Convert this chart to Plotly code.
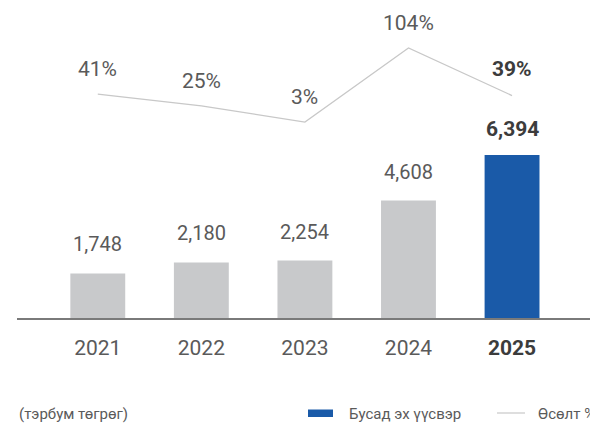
import plotly.graph_objects as go

years = ["2021", "2022", "2023", "2024", "2025"]
values = [1748, 2180, 2254, 4608, 6394]
growth = [41, 25, 3, 104, 39]
bar_colors = ["#c8c9cb", "#c8c9cb", "#c8c9cb", "#c8c9cb", "#1a5aa8"]
value_labels = ["1,748", "2,180", "2,254", "4,608", "6,394"]
growth_labels = ["41%", "25%", "3%", "104%", "39%"]
tick_labels = ["2021", "2022", "2023", "2024", "2025"]
unit_label = "(тэрбум төгрөг)"
legend_bar = "Бусад эх үүсвэр"
legend_line = "Өсөлт %"

FONT = "Roboto, Arial, sans-serif"
GRAY = "#5a5a5a"
DARK = "#3c3c3c"

# page body has an 8px margin -> design in figure pixels (reference px - 8)
OFF = 8
fig = go.Figure()
fig.add_trace(go.Bar(x=years, y=values, marker=dict(color=bar_colors, line=dict(width=0)),
                     width=0.53, showlegend=False, hoverinfo="skip"))
fig.add_trace(go.Scatter(x=years, y=growth, mode="lines", yaxis="y2",
                         line=dict(color="#c8c8c8", width=1.2), showlegend=False, hoverinfo="skip"))

ann = []
last = len(years) - 1
for i, (yr, v, lab) in enumerate(zip(years, values, value_labels)):
    bold = i == last
    ann.append(dict(x=i, y=v, xref="x", yref="y", text=f"<b>{lab}</b>" if bold else lab,
                    showarrow=False, yshift=26 if bold else 29,
                    font=dict(family=FONT, size=21 if bold else 20, color=DARK if bold else GRAY)))
for i, (yr, g, lab) in enumerate(zip(years, growth, growth_labels)):
    bold = i == last
    ann.append(dict(x=i, y=g, xref="x", yref="y2", text=f"<b>{lab}</b>" if bold else lab,
                    showarrow=False, yshift=27 if bold else 25,
                    font=dict(family=FONT, size=21, color=DARK if bold else GRAY)))

H = 318.0 - OFF
W = 581.0
L = 17 - OFF
R = 598 - L - W
def px(xp):
    return (xp - OFF - L) / W
def py(yp):
    return (H - (yp - OFF)) / H

ann.append(dict(x=px(17), y=py(413.5), xref="paper", yref="paper", text=unit_label, showarrow=False,
                xanchor="left", yanchor="middle", font=dict(family=FONT, size=15, color=GRAY)))
ann.append(dict(x=px(347), y=py(413.5), xref="paper", yref="paper", text=legend_bar, showarrow=False,
                xanchor="left", yanchor="middle", font=dict(family=FONT, size=15, color=GRAY)))
ann.append(dict(x=px(536), y=py(413.5), xref="paper", yref="paper", text=legend_line, showarrow=False,
                xanchor="left", yanchor="middle", font=dict(family=FONT, size=15, color=GRAY)))

shapes = [
    dict(type="rect", xref="paper", yref="paper", x0=px(308), x1=px(333), y0=py(417), y1=py(409.5),
         fillcolor="#1a5aa8", line=dict(width=0)),
    dict(type="line", xref="paper", yref="paper", x0=px(497), x1=px(525), y0=py(413), y1=py(413),
         line=dict(color="#c8c8c8", width=1.2)),
]

ticktext = [t if i < last else f"<b><span style='color:{DARK}'>{t}</span></b>" for i, t in enumerate(tick_labels)]

# bar scale: 6394 -> 163 px above baseline; line: value v at ref y = 124.2 - 0.733 v
bar_max = 6394 * H / 163.0
base_ref = 318.0
y2_lo = -(base_ref - 124.2) / 0.733
y2_hi = y2_lo + H / 0.733

fig.update_layout(
    width=598, height=426,
    margin=dict(l=L, r=R, t=0, b=426 - H),
    paper_bgcolor="white", plot_bgcolor="white",
    annotations=ann, shapes=shapes,
    xaxis=dict(type="category", range=[-0.78, 4.83], tickvals=years, ticktext=ticktext,
               showgrid=False, zeroline=False, showline=True, linecolor="#7a7a7a", linewidth=1.5,
               ticks="", ticklabelstandoff=10,
               tickfont=dict(family=FONT, size=21, color=GRAY)),
    yaxis=dict(range=[0, bar_max], showticklabels=False, showline=False, ticks="",
               showgrid=False, zeroline=False),
    yaxis2=dict(range=[y2_lo, y2_hi], overlaying="y", showticklabels=False, showline=False, ticks="",
                showgrid=False, zeroline=False),
)

fig.write_html("out.html")
